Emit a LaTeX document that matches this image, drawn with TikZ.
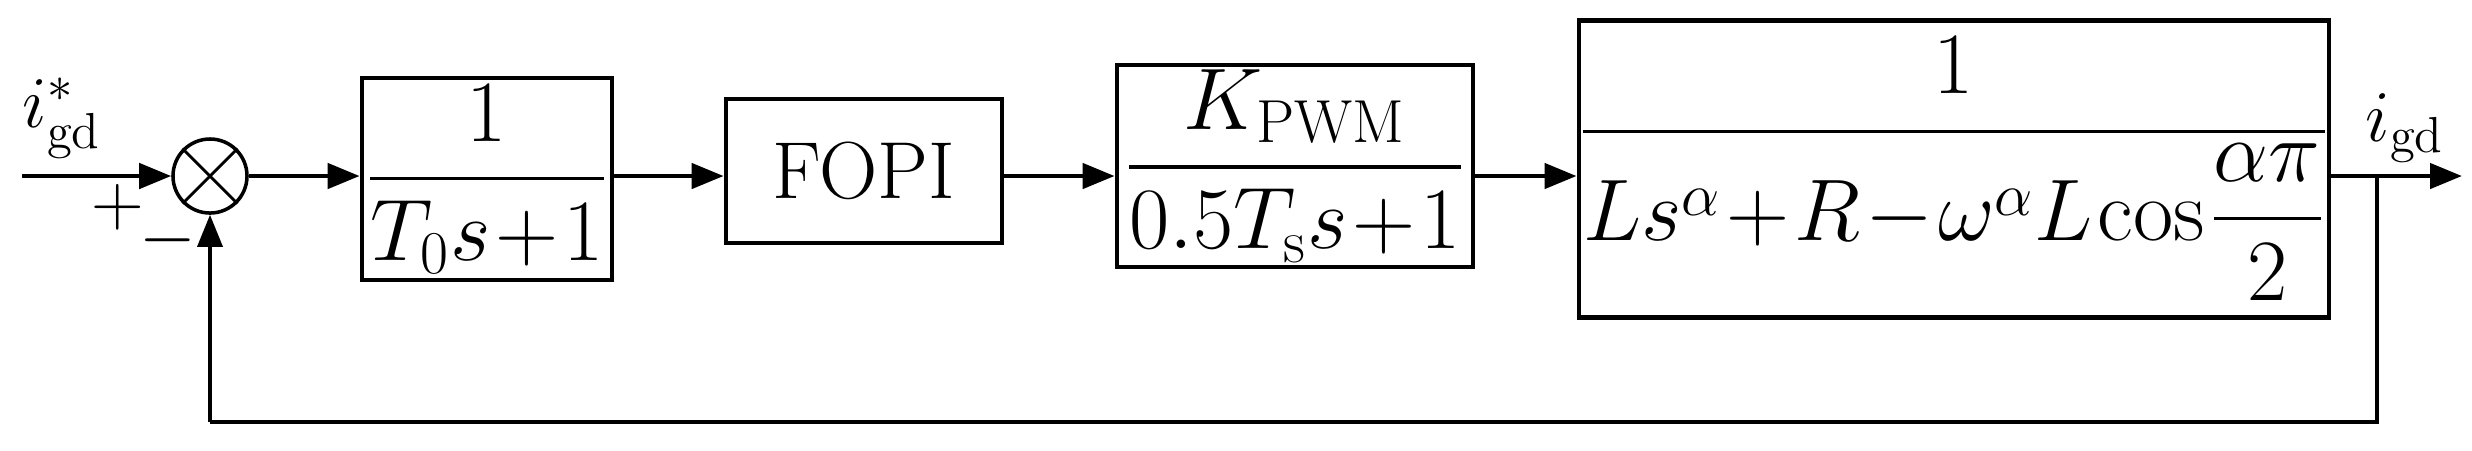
\documentclass[tikz,border=0pt]{standalone}
\usepackage{amsmath}
\usetikzlibrary{arrows.meta}
\begin{document}
\begin{tikzpicture}[x=0.01cm,y=-0.01cm,
  blk/.style={draw,line width=1.3pt,inner sep=0pt,font=\fontsize{23}{27}\selectfont},
  ar/.style={line width=1.3pt,-{Triangle[length=0.32cm,width=0.25cm]}},
  ln/.style={line width=1pt},
  lab/.style={font=\fontsize{22}{26}\selectfont,inner sep=0pt}]
\medmuskip=1mu \thickmuskip=1mu \thinmuskip=1mu
\useasboundingbox (0,0) rectangle (2472,450);
\node[blk,minimum width=2.5cm,minimum height=2.02cm] (b1) at (487,179) {$\displaystyle\frac{1}{T_{0}s+1}$};
\node[blk,minimum width=2.76cm,minimum height=1.44cm] (b2) at (864,171) {FOPI};
\node[blk,minimum width=3.56cm,minimum height=2.02cm] (b3) at (1295,166) {$\displaystyle\frac{K_{\mathrm{PWM}}}{0.5T_{\mathrm{s}}s+1}$};
\node[blk,minimum width=7.42cm,minimum height=2.97cm] (b4) at (1954,169) {$\displaystyle\frac{1}{Ls^{\alpha}+R-\omega^{\alpha}L\cos\dfrac{\alpha\pi}{2}}$};
\node[draw,circle,line width=1pt,minimum size=0.74cm,inner sep=0pt] (s) at (210,176) {};
\draw[line width=0.8pt] (s.45)--(s.225) (s.135)--(s.315);
\coordinate (in) at (22,176);
\coordinate (out) at (2462,176);
\coordinate (br) at (2377,176);
\coordinate (fb) at (2377,422);
\coordinate (fb2) at (210,422);
\draw[ar] (in)--(s.west);
\draw[ar] (s.east)--(b1.west|-s);
\draw[ar] (b1.east|-s)--(b2.west|-s);
\draw[ar] (b2.east|-s)--(b3.west|-s);
\draw[ar] (b3.east|-s)--(b4.west|-s);
\draw[ar] (b4.east|-out)--(out);
\draw[ln] (br)--(fb)--(fb2);
\draw[ln,-{Triangle[length=0.32cm,width=0.25cm]}] (fb2)--(s.south);
\node[lab] (lin) at (62,118) {$i_{\mathrm{gd}}^{*}$};
\node[lab] (lout) at (2405,128) {$i_{\mathrm{gd}}$};
\node[lab] (plus) at (118,207) {$+$};
\node[lab] (minus) at (168,240) {$-$};
\end{tikzpicture}
\end{document}
